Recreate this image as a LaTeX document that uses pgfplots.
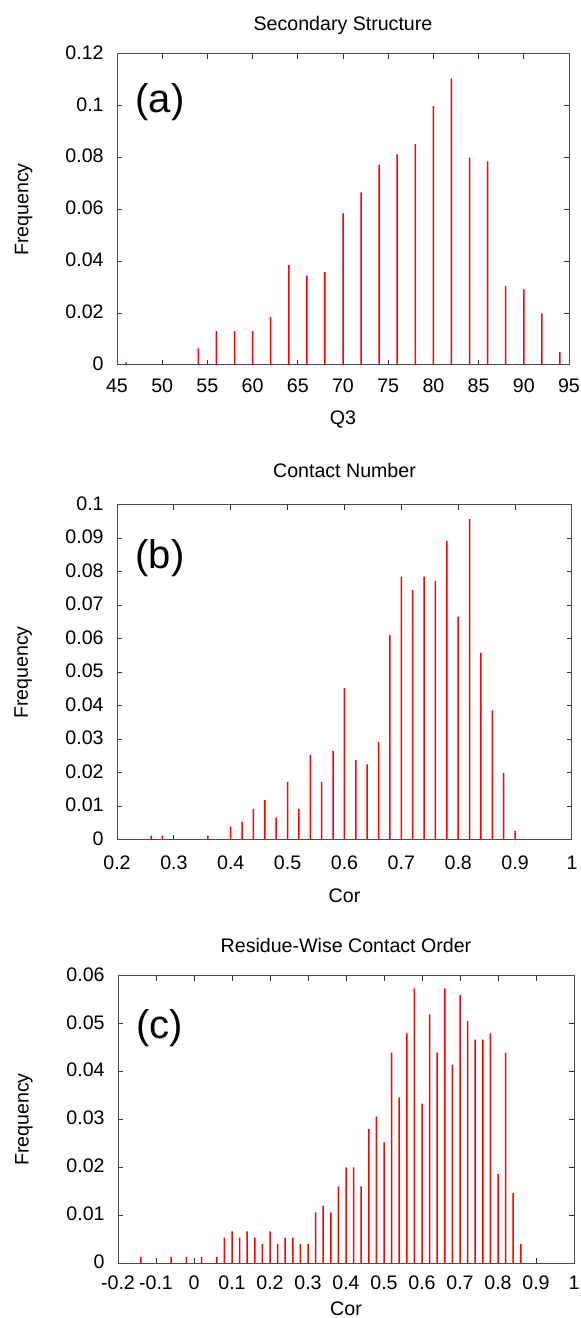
\documentclass[border=0pt]{standalone}
\usepackage{fontspec}
\setmainfont{Liberation Sans}
\usepackage{pgfplots}
\pgfplotsset{compat=1.18}

\pgfplotsset{
  hist/.style={
    scale only axis,
    font=\fontsize{9.8}{11}\selectfont,
    axis line style={draw=black!70, line width=0.5pt},
    tick style={black!80, line width=0.5pt},
    tick align=inside,
    major tick length=2.5pt,
    xtick pos=both, ytick pos=both,
    scaled ticks=false,
    yticklabel style={anchor=mid east, inner sep=0pt, xshift=-6.5pt},
    xticklabel style={anchor=base, inner sep=0pt},
    title style={at={(axis description cs:0.5,1)}, anchor=base, inner sep=0pt},
    xlabel style={at={(axis description cs:0.5,0)}, anchor=base, inner sep=0pt},
    ylabel style={at={(axis description cs:-0.186,0.5)}, anchor=south, inner sep=0pt},
    ylabel={Frequency},
  },
  comb/.style={ybar, bar width=0.75pt, bar shift=0pt, fill=red, draw=none, mark=none},
}
\tikzset{panel/.style={anchor=west, inner sep=0pt, font=\fontsize{20}{22}\selectfont}}

\begin{document}
\begin{tikzpicture}
\path[use as bounding box] (0,0) rectangle (290.5pt,659pt);

%% (a) Secondary Structure
\begin{axis}[hist,
  at={(58.5pt,476.5pt)}, anchor=south west,
  width=226pt, height=155.5pt,
  xmin=45, xmax=95, ymin=0, ymax=0.12,
  xtick={45,50,...,95},
  xticklabels={45,50,55,60,65,70,75,80,85,90,95},
  ytick={0,0.02,0.04,0.06,0.08,0.1,0.12},
  yticklabels={0,0.02,0.04,0.06,0.08,0.1,0.12},
  xticklabel style={yshift=-14pt},
  title={Secondary Structure}, title style={yshift=5.5pt},
  xlabel={Q3}, xlabel style={yshift=-30pt},
]
\addplot[comb] coordinates {
 (46,0.0010) (54,0.0064) (56,0.0131) (58,0.0131) (60,0.0131) (62,0.0185)
 (64,0.0385) (66,0.0345) (68,0.0358) (70,0.0585) (72,0.0666) (74,0.0772)
 (76,0.0813) (78,0.0853) (80,0.0999) (82,0.1106) (84,0.0800) (86,0.0786)
 (88,0.0305) (90,0.0292) (92,0.0199) (94,0.0051)};
\node[panel] at (axis description cs:0.04,0.846) {(a)};
\end{axis}

%% (b) Contact Number
\begin{axis}[hist,
  at={(58.5pt,239pt)}, anchor=south west,
  width=227.5pt, height=167.5pt,
  xmin=0.2, xmax=1, ymin=0, ymax=0.1,
  xtick={0.2,0.3,0.4,0.5,0.6,0.7,0.8,0.9,1},
  xticklabels={0.2,0.3,0.4,0.5,0.6,0.7,0.8,0.9,1},
  ytick={0,0.01,0.02,0.03,0.04,0.05,0.06,0.07,0.08,0.09,0.1},
  yticklabels={0,0.01,0.02,0.03,0.04,0.05,0.06,0.07,0.08,0.09,0.1},
  xticklabel style={yshift=-15pt},
  title={Contact Number}, title style={yshift=7.5pt},
  xlabel={Cor}, xlabel style={yshift=-31.5pt},
]
\addplot[comb] coordinates {
 (0.26,0.0013) (0.28,0.0013) (0.36,0.0013) (0.40,0.0040) (0.42,0.0054)
 (0.44,0.0093) (0.46,0.0119) (0.48,0.0067) (0.50,0.0173) (0.52,0.0093)
 (0.54,0.0253) (0.56,0.0173) (0.58,0.0266) (0.60,0.0453) (0.62,0.0239)
 (0.64,0.0226) (0.66,0.0293) (0.68,0.0612) (0.70,0.0786) (0.72,0.0746)
 (0.74,0.0786) (0.76,0.0773) (0.78,0.0893) (0.80,0.0667) (0.82,0.0958)
 (0.84,0.0559) (0.86,0.0387) (0.88,0.0200) (0.90,0.0027)};
\node[panel] at (axis description cs:0.04,0.842) {(b)};
\end{axis}

%% (c) Residue-Wise Contact Order
\begin{axis}[hist,
  at={(59pt,27.5pt)}, anchor=south west,
  width=228pt, height=143.5pt,
  xmin=-0.2, xmax=1, ymin=0, ymax=0.06,
  xtick={-0.2,-0.1,0,0.1,0.2,0.3,0.4,0.5,0.6,0.7,0.8,0.9,1},
  xticklabels={-0.2,-0.1,0,0.1,0.2,0.3,0.4,0.5,0.6,0.7,0.8,0.9,1},
  ytick={0,0.01,0.02,0.03,0.04,0.05,0.06},
  yticklabels={0,0.01,0.02,0.03,0.04,0.05,0.06},
  xticklabel style={yshift=-13pt},
  title={Residue-Wise Contact Order}, title style={yshift=5.5pt},
  xlabel={Cor}, xlabel style={yshift=-26pt},
]
\addplot[comb] coordinates {
 (-0.14,0.00125) (-0.06,0.00125) (-0.02,0.00125) (0.02,0.00125) (0.06,0.00125)
 (0.08,0.0053) (0.10,0.0066) (0.12,0.0053) (0.14,0.0066) (0.16,0.0053)
 (0.18,0.0040) (0.20,0.0066) (0.22,0.0040) (0.24,0.0053) (0.26,0.0053)
 (0.28,0.0040) (0.30,0.0040) (0.32,0.0106) (0.34,0.0120) (0.36,0.0106)
 (0.38,0.0160) (0.40,0.0200) (0.42,0.0200) (0.44,0.0160) (0.46,0.0280)
 (0.48,0.0306) (0.50,0.0252) (0.52,0.0440) (0.54,0.0346) (0.56,0.0480)
 (0.58,0.0574) (0.60,0.0333) (0.62,0.0520) (0.64,0.0440) (0.66,0.0574)
 (0.68,0.0414) (0.70,0.0560) (0.72,0.0506) (0.74,0.0467) (0.76,0.0467)
 (0.78,0.0480) (0.80,0.0186) (0.82,0.0440) (0.84,0.0146) (0.86,0.0040)};
\node[panel] at (axis description cs:0.04,0.819) {(c)};
\end{axis}
\end{tikzpicture}
\end{document}
